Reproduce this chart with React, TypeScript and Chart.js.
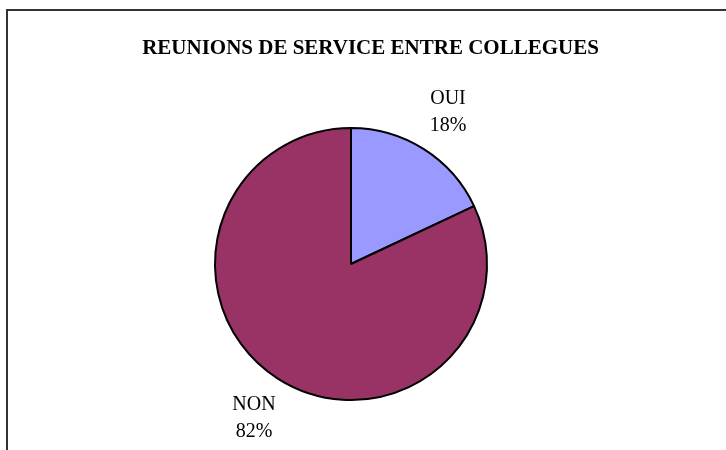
import React, { useEffect, useRef } from "react";
import { Chart, registerables } from "chart.js";

Chart.register(...registerables);

const titleText = "REUNIONS DE SERVICE ENTRE COLLEGUES";
const categories = ["OUI", "NON"];
const values = [18, 82];
const percentLabels = ["18%", "82%"];
const colors = ["#9999FF", "#993366"];

const framePlugin = {
  id: "framePlugin",
  beforeDraw(chart: any) {
    const ctx = chart.ctx;
    ctx.save();
    ctx.fillStyle = "#ffffff";
    ctx.fillRect(0, 0, chart.width, chart.height);
    ctx.strokeStyle = "#333333";
    ctx.lineWidth = 2;
    ctx.strokeRect(7, 10, 1000, 1000);
    ctx.fillStyle = "#000000";
    ctx.font = "bold 21px 'Liberation Serif'";
    ctx.textAlign = "center";
    ctx.textBaseline = "alphabetic";
    ctx.fillText(titleText, 370.5, 54);
    ctx.restore();
  },
  afterDatasetsDraw(chart: any) {
    const ctx = chart.ctx;
    const meta = chart.getDatasetMeta(0);
    ctx.save();
    ctx.fillStyle = "#000000";
    ctx.font = "20px 'Liberation Serif'";
    ctx.textAlign = "center";
    ctx.textBaseline = "alphabetic";
    meta.data.forEach((arc: any, i: number) => {
      const mid = (arc.startAngle + arc.endAngle) / 2;
      const d = arc.outerRadius + 45;
      const x = arc.x + Math.cos(mid) * d;
      const y = arc.y + Math.sin(mid) * d;
      ctx.fillText(categories[i], x, y - 7);
      ctx.fillText(percentLabels[i], x, y + 20);
    });
    ctx.restore();
  },
};

export default function App() {
  const ref = useRef<HTMLCanvasElement>(null);
  useEffect(() => {
    if (!ref.current) return;
    const chart = new Chart(ref.current, {
      type: "pie",
      data: {
        labels: categories,
        datasets: [
          {
            data: values,
            backgroundColor: colors,
            borderColor: "#000000",
            borderWidth: 2,
            hoverOffset: 0,
            offset: 0,
          },
        ],
      },
      options: {
        responsive: false,
        animation: false,
        radius: 136,
        layout: { padding: { left: 0, right: 24, top: 78, bottom: 0 } },
        plugins: {
          legend: { display: false },
          title: { display: false },
          tooltip: { enabled: false },
        },
        events: [],
      } as any,
      plugins: [framePlugin],
    });
    return () => chart.destroy();
  }, []);
  return (
    <div style={{ position: "absolute", left: 0, top: 0, width: 726, height: 450 }}>
      <canvas ref={ref} width={726} height={450} style={{ display: "block" }} />
    </div>
  );
}
